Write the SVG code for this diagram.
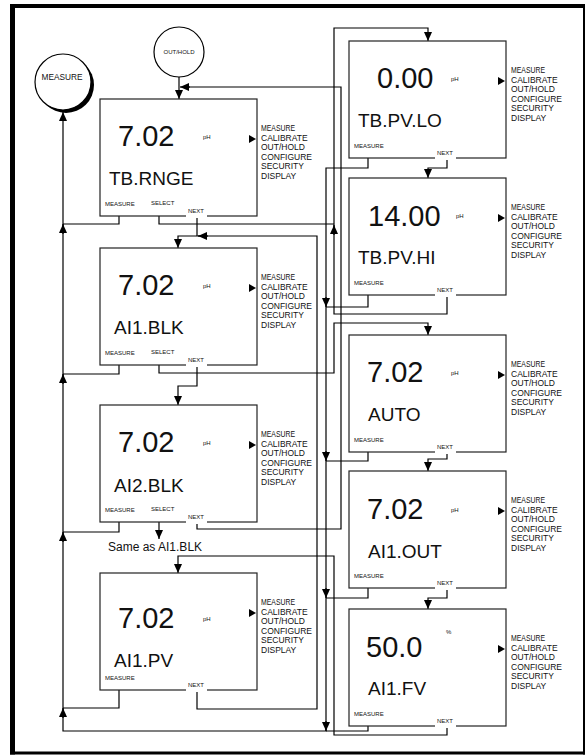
<svg xmlns="http://www.w3.org/2000/svg" width="587" height="755" viewBox="0 0 587 755">
<style>
text{font-family:"Liberation Sans",Arial,sans-serif;fill:#111}
.box{fill:#fff;stroke:#222;stroke-width:1.2}
.num{font-size:29px}
.lbl{font-size:19px}
.sm{font-size:6px}
.menu{font-size:8.5px}
.gap{fill:#fff}
.tri{fill:#000}
.ln{fill:none;stroke:#000;stroke-width:1.2}
.ar{fill:none;stroke:#000;stroke-width:1.2;marker-end:url(#a)}
.frame{stroke:#000;fill:none}
</style>
<defs>
<marker id="a" markerWidth="9" markerHeight="8" refX="9" refY="4" orient="auto" markerUnits="userSpaceOnUse"><path d="M0,0 L9,4 L0,8 z" fill="#000"/></marker>
</defs>
<rect width="587" height="755" fill="#fff"/>
<g id="frame" class="frame">
<line x1="12.5" y1="4" x2="12.5" y2="754.5" stroke-width="5"/>
<line x1="10" y1="6" x2="585" y2="6" stroke-width="4"/>
<line x1="584" y1="4" x2="584" y2="754.5" stroke-width="2"/>
<line x1="10" y1="753" x2="585" y2="753" stroke-width="3"/>
</g>

<g id="connectors">
<path class="ln" d="M197,522 V529 H341 V87 H188"/>
<path class="ln" d="M159,216 V224 H334"/>
<path class="ar" d="M447,295 V314 H334 V28 H428 V41"/>
<path class="ln" d="M197,216 V236"/>
<path class="ar" d="M197,690 V709 H317 V236 H178 V248"/>
<path class="ar" d="M159,365 V373 H334 V323 H428 V335"/>
<path class="ar" d="M197,365 V386 H178 V405"/>
<path class="ar" d="M159,522 V539"/>
<path class="ar" d="M447,726 V735 H334 V556 H178 V573"/>
<path class="ar" d="M368,158 V168 H326 V731 H63 V112"/>
<path class="ln" d="M368,295 V307 H326"/>
<path class="ln" d="M368,452 V461 H326"/>
<path class="ln" d="M368,588 V598 H326"/>
<path class="ln" d="M368,726 V731 H326"/>
<path class="ar" d="M447,158 V168 H428 V178"/>
<path class="ar" d="M447,452 V459 H428 V471"/>
<path class="ar" d="M447,588 V598 H428 V609"/>
<path class="ln" d="M119,216 V224 H63"/>
<path class="ln" d="M119,365 V374 H63"/>
<path class="ln" d="M119,522 V532 H63"/>
<path class="ln" d="M119,690 V708 H63"/>
<path class="ar" d="M179,77 V99"/>
<path class="ar" d="M190,87 H180"/>
<path class="ar" d="M208,236 H198"/>
<path class="ar" d="M334,235 V225"/>
<path class="ar" d="M63,234 V224"/>
<path class="ar" d="M63,384 V374"/>
<path class="ar" d="M63,542 V532"/>
<path class="ar" d="M63,718 V708"/>
<path class="ar" d="M326,297 V307"/>
<path class="ar" d="M326,451 V461"/>
<path class="ar" d="M326,588 V598"/>
<path class="ar" d="M326,721 V731"/>
</g>

<g id="measure-circle">
<circle cx="66" cy="85" r="28" fill="#000"/>
<circle cx="63" cy="82" r="28" fill="#fff" stroke="#000" stroke-width="1.2"/>
<text x="62" y="80" font-size="8.3" text-anchor="middle">MEASURE</text>
</g>
<g id="outhold-circle">
<circle cx="179" cy="52" r="25" fill="#fff" stroke="#000" stroke-width="1.2"/>
<text x="179" y="54" font-size="6" text-anchor="middle">OUT/HOLD</text>
</g>

<g id="n-tbrnge">
<rect class="box" x="100" y="99" width="157" height="117"/>
<text class="num" x="118" y="146">7.02</text>
<text class="sm" x="203" y="139">pH</text>
<text class="lbl" x="109" y="185">TB.RNGE</text>
<text class="sm" x="105" y="206">MEASURE</text>
<text class="sm" x="151" y="205">SELECT</text>
<rect class="gap" x="186" y="208" width="21" height="10"/>
<text class="sm" x="188" y="213">NEXT</text>
<polygon class="tri" points="249,135 256,139 249,143"/>
<text class="menu"><tspan x="261" y="131" textLength="34" lengthAdjust="spacingAndGlyphs">MEASURE</tspan><tspan x="261" y="140.6">CALIBRATE</tspan><tspan x="261" y="150.2">OUT/HOLD</tspan><tspan x="261" y="159.8">CONFIGURE</tspan><tspan x="261" y="169.4">SECURITY</tspan><tspan x="261" y="179">DISPLAY</tspan></text>
</g>

<g id="n-ai1blk">
<rect class="box" x="100" y="248" width="157" height="117"/>
<text class="num" x="118" y="295">7.02</text>
<text class="sm" x="203" y="288">pH</text>
<text class="lbl" x="114" y="334">AI1.BLK</text>
<text class="sm" x="105" y="355">MEASURE</text>
<text class="sm" x="151" y="354">SELECT</text>
<rect class="gap" x="186" y="357" width="21" height="10"/>
<text class="sm" x="188" y="362">NEXT</text>
<polygon class="tri" points="249,284 256,288 249,292"/>
<text class="menu"><tspan x="261" y="280" textLength="34" lengthAdjust="spacingAndGlyphs">MEASURE</tspan><tspan x="261" y="289.6">CALIBRATE</tspan><tspan x="261" y="299.2">OUT/HOLD</tspan><tspan x="261" y="308.8">CONFIGURE</tspan><tspan x="261" y="318.4">SECURITY</tspan><tspan x="261" y="328">DISPLAY</tspan></text>
</g>

<g id="n-ai2blk">
<rect class="box" x="100" y="405" width="157" height="117"/>
<text class="num" x="118" y="452">7.02</text>
<text class="sm" x="203" y="445">pH</text>
<text class="lbl" x="114" y="492">AI2.BLK</text>
<text class="sm" x="105" y="512">MEASURE</text>
<text class="sm" x="151" y="511">SELECT</text>
<rect class="gap" x="186" y="514" width="21" height="10"/>
<text class="sm" x="188" y="519">NEXT</text>
<polygon class="tri" points="249,441 256,445 249,449"/>
<text class="menu"><tspan x="261" y="437" textLength="34" lengthAdjust="spacingAndGlyphs">MEASURE</tspan><tspan x="261" y="446.6">CALIBRATE</tspan><tspan x="261" y="456.2">OUT/HOLD</tspan><tspan x="261" y="465.8">CONFIGURE</tspan><tspan x="261" y="475.4">SECURITY</tspan><tspan x="261" y="485">DISPLAY</tspan></text>
</g>
<text id="same-note" x="108" y="551" font-size="12">Same as AI1.BLK</text>

<g id="n-ai1pv">
<rect class="box" x="100" y="573" width="157" height="117"/>
<text class="num" x="118" y="628">7.02</text>
<text class="sm" x="203" y="621">pH</text>
<text class="lbl" x="114" y="667">AI1.PV</text>
<text class="sm" x="105" y="680">MEASURE</text>
<rect class="gap" x="186" y="682" width="21" height="10"/>
<text class="sm" x="188" y="687">NEXT</text>
<polygon class="tri" points="249,609 256,613 249,617"/>
<text class="menu"><tspan x="261" y="605" textLength="34" lengthAdjust="spacingAndGlyphs">MEASURE</tspan><tspan x="261" y="614.6">CALIBRATE</tspan><tspan x="261" y="624.2">OUT/HOLD</tspan><tspan x="261" y="633.8">CONFIGURE</tspan><tspan x="261" y="643.4">SECURITY</tspan><tspan x="261" y="653">DISPLAY</tspan></text>
</g>

<g id="n-tbpvlo">
<rect class="box" x="349" y="41" width="157" height="117"/>
<text class="num" x="377" y="88">0.00</text>
<text class="sm" x="451" y="81">pH</text>
<text class="lbl" x="358" y="127">TB.PV.LO</text>
<text class="sm" x="354" y="148">MEASURE</text>
<rect class="gap" x="435" y="150" width="21" height="10"/>
<text class="sm" x="437" y="155">NEXT</text>
<polygon class="tri" points="498,77 505,81 498,85"/>
<text class="menu"><tspan x="511" y="73" textLength="34" lengthAdjust="spacingAndGlyphs">MEASURE</tspan><tspan x="511" y="82.6">CALIBRATE</tspan><tspan x="511" y="92.2">OUT/HOLD</tspan><tspan x="511" y="101.8">CONFIGURE</tspan><tspan x="511" y="111.4">SECURITY</tspan><tspan x="511" y="121">DISPLAY</tspan></text>
</g>

<g id="n-tbpvhi">
<rect class="box" x="349" y="178" width="157" height="117"/>
<text class="num" x="368" y="226">14.00</text>
<text class="sm" x="456" y="218">pH</text>
<text class="lbl" x="358" y="264">TB.PV.HI</text>
<text class="sm" x="354" y="285">MEASURE</text>
<rect class="gap" x="435" y="287" width="21" height="10"/>
<text class="sm" x="437" y="292">NEXT</text>
<polygon class="tri" points="498,214 505,218 498,222"/>
<text class="menu"><tspan x="511" y="210" textLength="34" lengthAdjust="spacingAndGlyphs">MEASURE</tspan><tspan x="511" y="219.6">CALIBRATE</tspan><tspan x="511" y="229.2">OUT/HOLD</tspan><tspan x="511" y="238.8">CONFIGURE</tspan><tspan x="511" y="248.4">SECURITY</tspan><tspan x="511" y="258">DISPLAY</tspan></text>
</g>

<g id="n-auto">
<rect class="box" x="349" y="335" width="157" height="117"/>
<text class="num" x="367" y="382">7.02</text>
<text class="sm" x="451" y="375">pH</text>
<text class="lbl" x="368" y="421">AUTO</text>
<text class="sm" x="354" y="442">MEASURE</text>
<rect class="gap" x="435" y="444" width="21" height="10"/>
<text class="sm" x="437" y="449">NEXT</text>
<polygon class="tri" points="498,371 505,375 498,379"/>
<text class="menu"><tspan x="511" y="367" textLength="34" lengthAdjust="spacingAndGlyphs">MEASURE</tspan><tspan x="511" y="376.6">CALIBRATE</tspan><tspan x="511" y="386.2">OUT/HOLD</tspan><tspan x="511" y="395.8">CONFIGURE</tspan><tspan x="511" y="405.4">SECURITY</tspan><tspan x="511" y="415">DISPLAY</tspan></text>
</g>

<g id="n-ai1out">
<rect class="box" x="349" y="471" width="157" height="117"/>
<text class="num" x="367" y="519">7.02</text>
<text class="sm" x="451" y="512">pH</text>
<text class="lbl" x="368" y="558">AI1.OUT</text>
<text class="sm" x="354" y="578">MEASURE</text>
<rect class="gap" x="435" y="580" width="21" height="10"/>
<text class="sm" x="437" y="585">NEXT</text>
<polygon class="tri" points="498,507 505,511 498,515"/>
<text class="menu"><tspan x="511" y="503" textLength="34" lengthAdjust="spacingAndGlyphs">MEASURE</tspan><tspan x="511" y="512.6">CALIBRATE</tspan><tspan x="511" y="522.2">OUT/HOLD</tspan><tspan x="511" y="531.8">CONFIGURE</tspan><tspan x="511" y="541.4">SECURITY</tspan><tspan x="511" y="551">DISPLAY</tspan></text>
</g>

<g id="n-ai1fv">
<rect class="box" x="349" y="609" width="157" height="117"/>
<text class="num" x="366" y="657">50.0</text>
<text class="sm" x="446" y="634">%</text>
<text class="lbl" x="368" y="695">AI1.FV</text>
<text class="sm" x="354" y="716">MEASURE</text>
<rect class="gap" x="435" y="718" width="21" height="10"/>
<text class="sm" x="437" y="723">NEXT</text>
<polygon class="tri" points="498,645 505,649 498,653"/>
<text class="menu"><tspan x="511" y="641" textLength="34" lengthAdjust="spacingAndGlyphs">MEASURE</tspan><tspan x="511" y="650.6">CALIBRATE</tspan><tspan x="511" y="660.2">OUT/HOLD</tspan><tspan x="511" y="669.8">CONFIGURE</tspan><tspan x="511" y="679.4">SECURITY</tspan><tspan x="511" y="689">DISPLAY</tspan></text>
</g>
</svg>
